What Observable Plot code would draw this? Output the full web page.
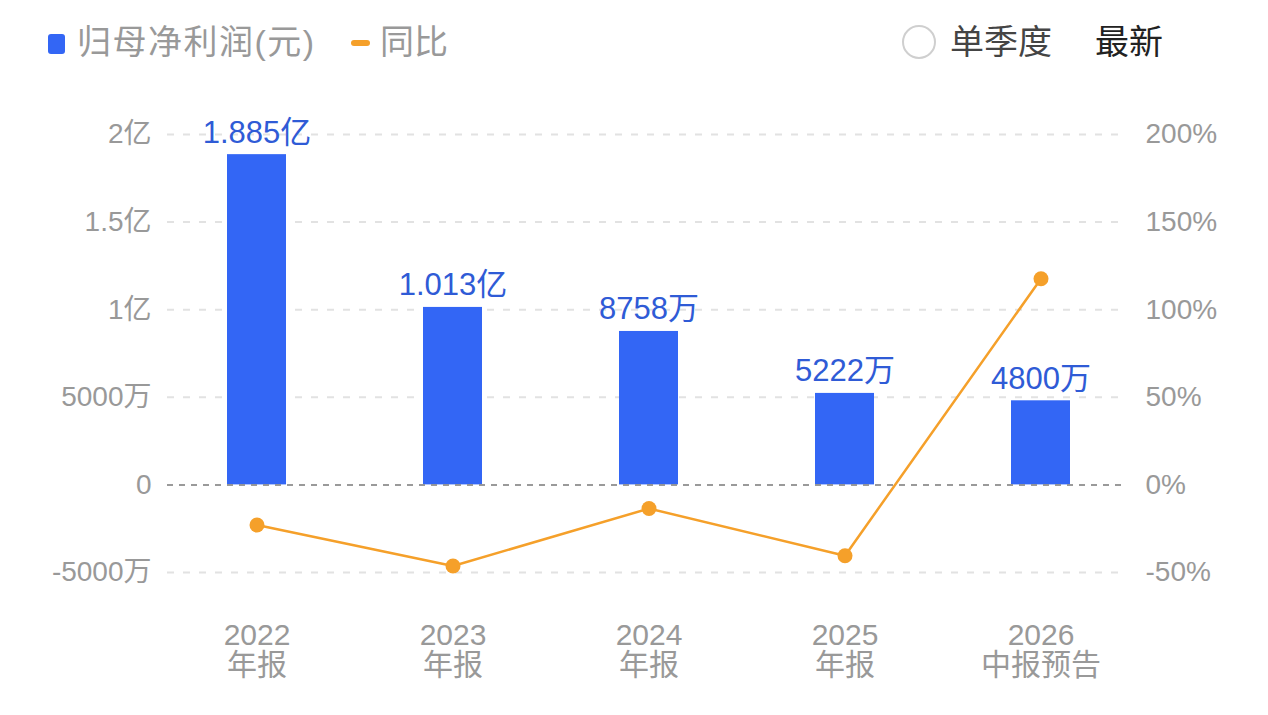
<!DOCTYPE html>
<html>
<head>
<meta charset="utf-8">
<script src="https://cdn.jsdelivr.net/npm/d3@7"></script>
<script src="https://cdn.jsdelivr.net/npm/@observablehq/plot@0.6"></script>
<style>
  html, body { margin: 0; padding: 0; background: #fff; }
  body { width: 1268px; height: 715px; overflow: hidden; font-family: "Liberation Sans", "Noto Sans CJK SC", sans-serif; }
  #legend { position: relative; height: 85px; width: 1268px; }
  #legend .item { position: absolute; top: 20px; font-size: 34px; line-height: 44px; color: #999; white-space: nowrap; }
  .sq { position: absolute; left: 48px; top: 34px; width: 17px; height: 20px; border-radius: 3px; background: #3366f5; }
  .dash { position: absolute; left: 351px; top: 40px; width: 19px; height: 6px; border-radius: 3px; background: #f5a02a; }
  .circ { position: absolute; left: 902px; top: 25px; width: 34px; height: 34px; border-radius: 50%; border: 2px solid #cfcfcf; box-sizing: border-box; }
</style>
</head>
<body>
<div id="legend">
  <div class="sq"></div>
  <div class="item" style="left:77px;letter-spacing:1.5px;">归母净利润(元)</div>
  <div class="dash"></div>
  <div class="item" style="left:380px;">同比</div>
  <div class="circ"></div>
  <div class="item" style="left:950px;color:#444;">单季度</div>
  <div class="item" style="left:1095px;color:#222;">最新</div>
</div>
<div id="chart"></div>
<script>
const years = ["2022", "2023", "2024", "2025", "2026"];
const periods = ["年报", "年报", "年报", "年报", "中报预告"];
const profit = [188500000, 101300000, 87580000, 52220000, 48000000];
const yoy = [-22.9, -46.3, -13.5, -40.4, 117.7];

const yTicks = [-50000000, 0, 50000000, 100000000, 150000000, 200000000];
const yTickLabels = ["-5000万", "0", "5000万", "1亿", "1.5亿", "2亿"];
const pctTicks = [-50, 0, 50, 100, 150, 200];

const data = years.map((y, i) => ({cat: y, period: periods[i], value: profit[i], yoy: yoy[i]}));
const pctToY = p => p * 1e6; // 100% aligned with 1亿 on shared axis

const fmtValue = v => v >= 1e8 ? (v / 1e8).toFixed(3) + "亿" : Math.round(v / 1e4) + "万";

const BLUE = "#3366f5";
const ORANGE = "#f5a02a";
const GRAY = "#999";

const chart = Plot.plot({
  width: 1268,
  height: 630,
  marginLeft: 167,
  marginRight: 146,
  marginTop: 49,
  marginBottom: 143,
  style: {fontFamily: "'Liberation Sans','Noto Sans CJK SC',sans-serif", fontSize: "28px", background: "#fff"},
  x: {type: "band", domain: years, paddingInner: 0.7, paddingOuter: 0.3, range: [168, 1129], axis: null},
  y: {domain: [-50000000, 200000000], axis: null},
  marks: [
    Plot.ruleY(yTicks.filter(d => d !== 0), {stroke: "#e2e2e2", strokeWidth: 2, strokeDasharray: "7,9"}),
    Plot.barY(data, {x: "cat", y: "value", fill: BLUE}),
    Plot.ruleY([0], {stroke: "#8f8f8f", strokeWidth: 2, strokeDasharray: "6,6", strokeOpacity: 0.9}),
    Plot.axisY(yTicks, {anchor: "left", tickSize: 0, tickPadding: 16, label: null,
      tickFormat: d => yTickLabels[yTicks.indexOf(d)], fill: GRAY, fontSize: 28}),
    Plot.axisY(pctTicks.map(pctToY), {anchor: "right", tickSize: 0, tickPadding: 23, label: null,
      tickFormat: d => pctTicks[pctTicks.map(pctToY).indexOf(d)] + "%", fill: GRAY, fontSize: 28}),
    Plot.line(data, {x: "cat", y: d => pctToY(d.yoy), stroke: ORANGE, strokeWidth: 2.5}),
    Plot.dot(data, {x: "cat", y: d => pctToY(d.yoy), r: 7.5, fill: ORANGE, stroke: "none"}),
    Plot.text(data, {x: "cat", y: "value", text: d => fmtValue(d.value), lineAnchor: "bottom", dy: -12,
      fill: "#2f5bd6", fontSize: 31}),
    Plot.text(data, {x: "cat", text: d => d.cat + "\n" + d.period, frameAnchor: "bottom", lineAnchor: "top",
      dy: 51, fill: GRAY, fontSize: 30, lineHeight: 1.0})
  ]
});
document.getElementById("chart").appendChild(chart);
</script>
</body>
</html>
